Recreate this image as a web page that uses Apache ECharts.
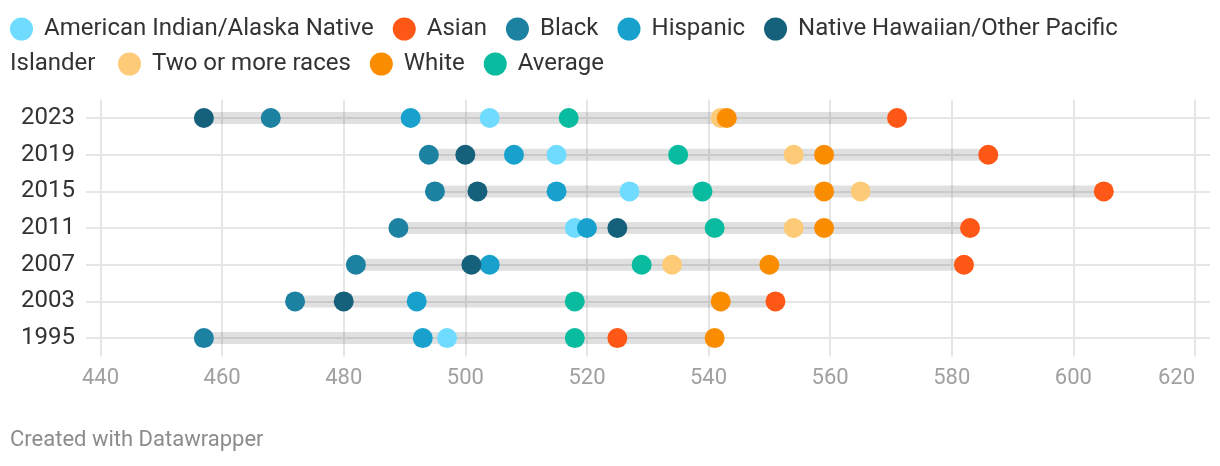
<!DOCTYPE html>
<html><head><meta charset="utf-8">
<script src="https://cdn.jsdelivr.net/npm/echarts@6/dist/echarts.min.js"></script>
<style>html,body{margin:0;padding:0;background:#fff}#c{width:1220px;height:466px}</style>
</head><body><div id="c"></div>
<script>
// ---- data ----
const years = ['2023', '2019', '2015', '2011', '2007', '2003', '1995'];
const groupNames = ['American Indian/Alaska Native', 'Asian', 'Black', 'Hispanic',
  'Native Hawaiian/Other Pacific Islander', 'Two or more races', 'White', 'Average'];
const aian      = [504, 515, 527, 518, null, null, 497];
const asian     = [571, 586, 605, 583, 582, 551, 525];
const black     = [468, 494, 495, 489, 482, 472, 457];
const hispanic  = [491, 508, 515, 520, 504, 492, 493];
const nhpi      = [457, 500, 502, 525, 501, 480, null];
const twoOrMore = [542, 554, 565, 554, 534, null, null];
const white     = [543, 559, 559, 559, 550, 542, 541];
const average   = [517, 535, 539, 541, 529, 518, 518];
const xMin = 440, xMax = 620, xStep = 20;
const footer = 'Created with Datawrapper';

// ---- styling ----
const seriesValues = [aian, asian, black, hispanic, nhpi, twoOrMore, white, average];
const colors = ['#6fdcff', '#ff5816', '#1d81a2', '#18a1cd', '#15607a', '#fdcb77', '#fa8c00', '#09bb9f'];
const FONT = 'Roboto, "Noto Sans", sans-serif';
const gridColor = '#e6e6e6';

const rangeData = years.map((y, i) => {
  const vals = seriesValues.map(s => s[i]).filter(v => v != null);
  return [Math.min(...vals), Math.max(...vals), i];
});

const scatterSeries = groupNames.map((name, k) => ({
  name: name,
  type: 'scatter',
  xAxisIndex: 1, yAxisIndex: 1,
  symbol: 'circle',
  symbolSize: 20,
  itemStyle: { color: colors[k], opacity: 1 },
  emphasis: { disabled: true },
  z: 5 + k,
  data: years.map((y, i) => seriesValues[k][i] == null ? null : [seriesValues[k][i], y]).filter(d => d)
}));

const chart = echarts.init(document.getElementById('c'), null, { renderer: 'canvas' });
const legendCommon = {
  orient: 'horizontal', icon: 'circle', itemWidth: 23, itemHeight: 23, itemGap: 19,
  padding: 0, width: 1200,
  textStyle: { fontSize: 24, color: '#333', fontFamily: FONT, padding: [0, 0, 0, 6] },
  inactiveColor: '#ccc'
};
chart.setOption({
  animation: false,
  backgroundColor: '#fff',
  color: colors,
  legend: [
    Object.assign({}, legendCommon, {
      left: 10, top: 17,
      data: groupNames.slice(0, 5),
      formatter: n => n === 'Native Hawaiian/Other Pacific Islander' ? 'Native Hawaiian/Other Pacific' : n
    }),
    Object.assign({}, legendCommon, {
      left: 118, top: 52,
      data: groupNames.slice(5)
    })
  ],
  graphic: [
    { type: 'text', left: 10, top: 52, style: { text: 'Islander', fontSize: 24, fill: '#333', fontFamily: FONT, lineHeight: 24, verticalAlign: 'top' } },
    { type: 'text', left: 10, top: 429, style: { text: footer, fontSize: 22, fill: '#8c8c8c', fontFamily: FONT } }
  ],
  grid: [
    { left: 86, right: 10, top: 118, height: 220, containLabel: false },
    { left: 100.5, right: 25, top: 99.7, height: 256.7, containLabel: false }
  ],
  xAxis: [
    { type: 'value', gridIndex: 0, show: false, min: xMin, max: xMax },
    {
      type: 'value', gridIndex: 1, min: xMin, max: xMax, interval: xStep,
      axisLine: { show: false }, axisTick: { show: false },
      axisLabel: { color: '#a0a0a0', fontSize: 22, fontFamily: FONT, margin: 11, alignMaxLabel: 'right' },
      splitLine: { show: true, lineStyle: { color: gridColor, width: 2 } }
    }
  ],
  yAxis: [
    {
      type: 'category', gridIndex: 0, data: years, inverse: true, boundaryGap: false,
      axisLine: { show: false }, axisTick: { show: false },
      axisLabel: { color: '#333', fontSize: 24, fontFamily: FONT, margin: 11, interval: 0 },
      splitLine: { show: true, interval: 0, lineStyle: { color: gridColor, width: 2 } }
    },
    {
      type: 'category', gridIndex: 1, data: years, inverse: true, boundaryGap: true, show: false
    }
  ],
  series: [
    {
      type: 'custom',
      xAxisIndex: 1, yAxisIndex: 1,
      z: 2,
      silent: true,
      encode: { x: [0, 1], y: 2 },
      data: rangeData,
      renderItem: function (params, api) {
        const a = api.coord([api.value(0), api.value(2)]);
        const b = api.coord([api.value(1), api.value(2)]);
        const h = 12;
        return {
          type: 'rect',
          shape: { x: a[0], y: a[1] - h / 2, width: b[0] - a[0], height: h },
          style: { fill: 'rgba(0,0,0,0.12)' }
        };
      }
    }
  ].concat(scatterSeries)
});
</script>
</body></html>
